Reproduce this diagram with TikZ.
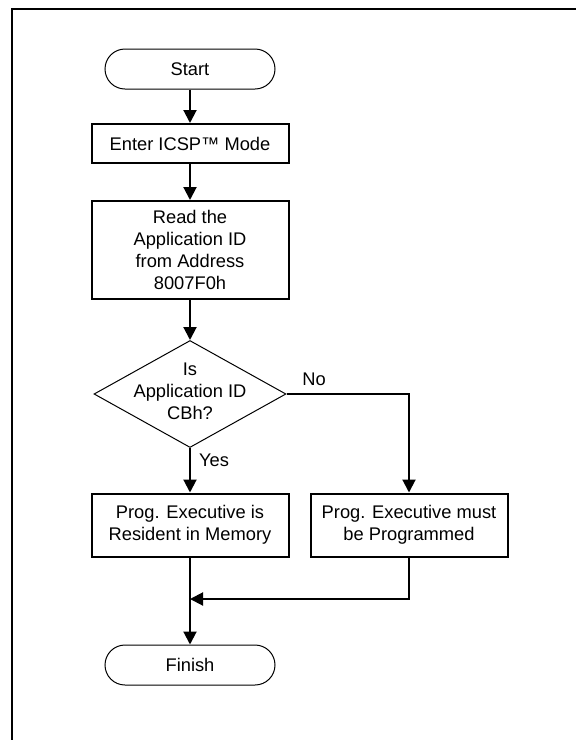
\documentclass[tikz,border=0pt]{standalone}
\usepackage{fontspec}
\setmainfont{Liberation Sans}
\usetikzlibrary{arrows.meta,shapes.geometric,shapes.misc}
\begin{document}
\begin{tikzpicture}[x=1pt,y=-1pt,
  txt/.style={font=\fontsize{18.3}{22}\selectfont, align=center, inner sep=0pt},
  box/.style={txt, draw, line width=2pt, minimum width=197pt},
  term/.style={txt, draw, line width=1pt, rounded rectangle, minimum width=170pt, minimum height=40pt},
  decision/.style={draw, line width=1pt, diamond, minimum width=192pt, minimum height=107pt, inner sep=0pt},
  conn/.style={line width=2pt, -{Triangle[length=13pt,width=13pt]}},
  framel/.style={line width=2pt}]
\useasboundingbox (0,0) rectangle (576,740);
\draw[framel] (12,741) -- (12,9) -- (577,9);

\node[term] (start) at (190,69) {Start};
\node[box, minimum height=39pt] (enter) at (190,143.5) {Enter ICSP™ Mode};
\node[box, minimum height=98pt] (read) at (190,250) {Read the\\Application ID\\from Address\\8007F0h};
\node[decision] (dec) at (190,394) {};
\node[txt] (dect) at (190,391) {Is\\Application ID\\CBh?};
\node[box, minimum height=63pt] (lbox) at (190,525) {Prog. Executive is\\Resident in Memory};
\node[box, minimum height=63pt] (rbox) at (409,525) {Prog. Executive must\\be Programmed};
\node[term] (finish) at (190,665) {Finish};
\coordinate (merge) at (190,599);
\node[txt] (no) at (314,379) {No};
\node[txt] (yes) at (214,460) {Yes};

\draw[conn] (start) -- (enter);
\draw[conn] (enter) -- (read);
\draw[conn] (read) -- (dec);
\draw[conn] (dec.south) -- (lbox.north);
\draw[conn] (dec.east) -| (rbox.north);
\draw[conn] (lbox) -- (finish);
\draw[conn] (rbox.south) |- (merge);
\end{tikzpicture}
\end{document}
